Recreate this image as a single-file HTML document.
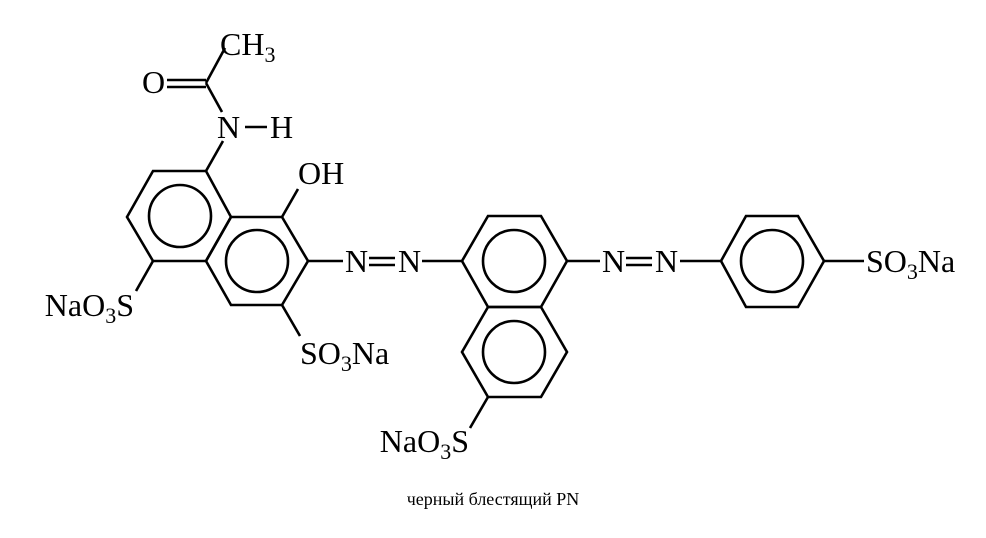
<!DOCTYPE html>
<html><head><meta charset="utf-8"><style>
html,body{margin:0;padding:0;background:#fff;}
svg{display:block;}
text{font-family:"Liberation Serif",serif;font-size:32px;fill:#000;}
.s{font-size:22px;}
.cap{font-size:18px;}
</style></head><body>
<svg width="986" height="538" viewBox="0 0 986 538" xmlns="http://www.w3.org/2000/svg">
<g stroke="#000" stroke-width="2.6" fill="none" stroke-linejoin="miter">
<!-- naphthalene 1 -->
<polygon points="153,171 206,171 231,217 206,261 153,261 127,217"/>
<polygon points="231,217 282,217 308,261 282,305 231,305 206,261"/>
<circle cx="180" cy="216" r="31"/>
<circle cx="257" cy="261" r="31"/>
<!-- substituents 1 -->
<line x1="206" y1="171" x2="223" y2="141"/>
<line x1="222" y1="112" x2="206" y2="83"/>
<line x1="206" y1="83" x2="225" y2="48"/>
<line x1="167" y1="80" x2="206" y2="80"/>
<line x1="167" y1="87" x2="206" y2="87"/>
<line x1="245" y1="127" x2="267" y2="127"/>
<line x1="282" y1="217" x2="298" y2="189"/>
<line x1="308" y1="261" x2="343" y2="261"/>
<line x1="369" y1="258" x2="395" y2="258"/>
<line x1="369" y1="265" x2="395" y2="265"/>
<line x1="422" y1="261" x2="462" y2="261"/>
<line x1="282" y1="305" x2="300" y2="336"/>
<line x1="153" y1="261" x2="136" y2="291"/>
<!-- naphthalene 2 -->
<polygon points="488,216 541,216 567,261 541,307 488,307 462,261"/>
<polygon points="488,307 541,307 567,352 541,397 488,397 462,352"/>
<circle cx="514" cy="261" r="31"/>
<circle cx="514" cy="352" r="31"/>
<line x1="488" y1="397" x2="470" y2="428"/>
<line x1="567" y1="261" x2="600" y2="261"/>
<line x1="626" y1="258" x2="652" y2="258"/>
<line x1="626" y1="265" x2="652" y2="265"/>
<line x1="680" y1="261" x2="721" y2="261"/>
<!-- benzene -->
<polygon points="721,261 746,216 798,216 824,261 798,307 746,307"/>
<circle cx="772" cy="261" r="31"/>
<line x1="824" y1="261" x2="864" y2="261"/>
</g>
<text x="220" y="55">CH<tspan class="s" dy="7">3</tspan></text>
<text x="142" y="93">O</text>
<text x="217" y="138">N</text>
<text x="270" y="138">H</text>
<text x="298" y="184">OH</text>
<text x="345" y="272">N</text>
<text x="398" y="272">N</text>
<text x="602" y="272">N</text>
<text x="655" y="272">N</text>
<text x="866" y="272">SO<tspan class="s" dy="7">3</tspan><tspan dy="-7">Na</tspan></text>
<text x="300" y="364">SO<tspan class="s" dy="7">3</tspan><tspan dy="-7">Na</tspan></text>
<text x="134" y="316" text-anchor="end">NaO<tspan class="s" dy="7">3</tspan><tspan dy="-7">S</tspan></text>
<text x="469" y="452" text-anchor="end">NaO<tspan class="s" dy="7">3</tspan><tspan dy="-7">S</tspan></text>
<text class="cap" x="493" y="505" text-anchor="middle">черный блестящий PN</text>
</svg>
</body></html>
